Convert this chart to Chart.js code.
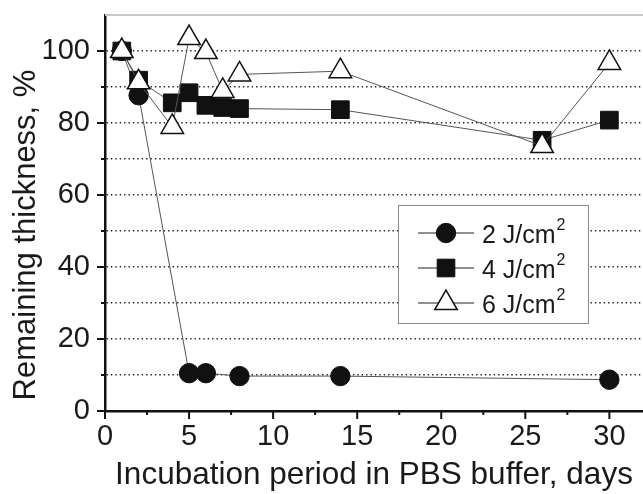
<!DOCTYPE html>
<html><head><meta charset="utf-8">
<script src="https://cdn.jsdelivr.net/npm/chart.js@4/dist/chart.umd.min.js"></script>
<style>html,body{margin:0;padding:0;background:#fff;overflow:hidden}#wrap{width:643px;height:494px}canvas{display:block}</style>
</head><body><div id="wrap"><canvas id="c" width="643" height="494"></canvas></div>
<script>
// ---- data ----
const days2 = [1, 2, 5, 6, 8, 14, 30];
const thick2 = [100, 87.7, 10.5, 10.5, 9.7, 9.7, 8.7];
const days4 = [1, 2, 4, 5, 6, 7, 8, 14, 26, 30];
const thick4 = [100, 91.9, 85.6, 88.4, 84.9, 84.3, 84.0, 83.7, 75.2, 80.8];
const days6 = [1, 2, 4, 5, 6, 7, 8, 14, 26, 30];
const thick6 = [100, 91.3, 78.9, 103.6, 99.7, 88.9, 93.5, 94.4, 73.6, 96.7];
const seriesNames = ['2 J/cm²', '4 J/cm²', '6 J/cm²'];
const xTickLabels = [0, 5, 10, 15, 20, 25, 30];
const yTickLabels = [0, 20, 40, 60, 80, 100];
const xTitle = 'Incubation period in PBS buffer, days';
const yTitle = 'Remaining thickness, %';

const FONT = "'Liberation Sans', Arial, sans-serif";
const pts = (xs, ys) => xs.map((x, i) => ({x, y: ys[i]}));
// minor ticks halfway between labelled ticks
const xAll = [];
xTickLabels.forEach((v, i) => { xAll.push(v); if (i < xTickLabels.length - 1) xAll.push((v + xTickLabels[i + 1]) / 2); });
const yAll = [];
yTickLabels.forEach((v, i) => { yAll.push(v); if (i < yTickLabels.length - 1) yAll.push((v + yTickLabels[i + 1]) / 2); });
yAll.push(110);

const tickPlugin = {
  id: 'ticksAndFrame',
  afterDraw(chart) {
    const {ctx, chartArea} = chart;
    const ax = chart.scales.x, ay = chart.scales.y;
    ctx.save();
    // top light frame line
    ctx.strokeStyle = '#c8c8c8'; ctx.lineWidth = 2;
    ctx.beginPath(); ctx.moveTo(chartArea.left, chartArea.top); ctx.lineTo(chartArea.right, chartArea.top); ctx.stroke();
    ctx.strokeStyle = '#111'; ctx.lineWidth = 2;
    ax.ticks.forEach(t => {
      const px = ax.getPixelForValue(t.value);
      const len = xTickLabels.includes(t.value) ? 8 : 4;
      ctx.beginPath(); ctx.moveTo(px, ay.bottom); ctx.lineTo(px, ay.bottom + len); ctx.stroke();
    });
    ay.ticks.forEach(t => {
      if (t.value > 105) return;
      const py = ay.getPixelForValue(t.value);
      const len = yTickLabels.includes(t.value) ? 8 : 4;
      ctx.beginPath(); ctx.moveTo(ax.left, py); ctx.lineTo(ax.left - len, py); ctx.stroke();
    });
    // y-axis title
    ctx.save();
    ctx.translate(26, 235); ctx.rotate(-Math.PI / 2);
    ctx.fillStyle = '#1a1a1a'; ctx.font = "31px " + FONT;
    ctx.textAlign = 'center'; ctx.textBaseline = 'middle';
    ctx.fillText(yTitle, 0, 0);
    ctx.restore();
    // legend
    const bx = 398, by = 205, bw = 190, bh = 118;
    ctx.fillStyle = '#fff'; ctx.fillRect(bx, by, bw, bh);
    ctx.strokeStyle = '#8a8a8a'; ctx.lineWidth = 1;
    ctx.strokeRect(bx + 0.5, by + 0.5, bw, bh);
    chart.data.datasets.forEach((ds, i) => {
      const cy = 233 + i * 35;
      ctx.strokeStyle = '#222'; ctx.lineWidth = 1;
      ctx.beginPath(); ctx.moveTo(418, cy); ctx.lineTo(474, cy); ctx.stroke();
      ctx.fillStyle = ds.pointBackgroundColor; ctx.strokeStyle = ds.pointBorderColor; ctx.lineWidth = ds.pointBorderWidth;
      Chart.helpers.drawPoint(ctx, {pointStyle: ds.pointStyle, radius: ds.pointRadius, borderWidth: ds.pointBorderWidth, rotation: 0}, 446, cy);
      ctx.fillStyle = '#1a1a1a';
      ctx.textBaseline = 'alphabetic'; ctx.textAlign = 'left';
      let base = ds.label, sup = '';
      if (base.endsWith('²')) { base = base.slice(0, -1); sup = '2'; }
      ctx.font = "25px " + FONT;
      ctx.fillText(base, 482, cy + 10);
      const w = ctx.measureText(base).width;
      if (sup) { ctx.font = "16px " + FONT; ctx.fillText(sup, 482 + w + 1, cy - 3); }
    });
    ctx.restore();
  }
};

new Chart(document.getElementById('c'), {
  type: 'line',
  data: {
    datasets: [
      {label: seriesNames[0], data: pts(days2, thick2), order: 3, pointStyle: 'circle', pointRadius: 9.7,
       pointBackgroundColor: '#111', pointBorderColor: '#111', pointBorderWidth: 1, borderColor: '#555', borderWidth: 1, tension: 0, clip: false},
      {label: seriesNames[1], data: pts(days4, thick4), order: 2, pointStyle: 'rect', pointRadius: 12.5,
       pointBackgroundColor: '#111', pointBorderColor: '#111', pointBorderWidth: 1, borderColor: '#555', borderWidth: 1, tension: 0, clip: false},
      {label: seriesNames[2], data: pts(days6, thick6), order: 1, pointStyle: 'triangle', pointRadius: 13,
       pointBackgroundColor: '#fff', pointBorderColor: '#111', pointBorderWidth: 1.5, borderColor: '#555', borderWidth: 1, tension: 0, clip: false}
    ]
  },
  options: {
    responsive: false, animation: false, devicePixelRatio: 1,
    layout: {autoPadding: false, padding: {top: 15, right: 0, left: 0, bottom: 0}},
    plugins: {legend: {display: false}, tooltip: {enabled: false}},
    scales: {
      x: {
        type: 'linear', min: 0, max: 32,
        afterBuildTicks: (axis) => { axis.ticks = xAll.map(v => ({value: v})); },
        afterFit: (s) => { s.height = 83; s.paddingRight = 0; s.paddingLeft = 0; },
        ticks: {autoSkip: false, maxRotation: 0, padding: 9, color: '#1a1a1a',
          font: {family: FONT, size: 29}, callback: (v) => xTickLabels.includes(v) ? String(v) : ''},
        grid: {drawOnChartArea: false, drawTicks: false},
        border: {color: '#111', width: 2.5},
        title: {display: true, text: xTitle, color: '#1a1a1a', font: {family: FONT, size: 31.5}, padding: {top: 0, bottom: 0}}
      },
      y: {
        type: 'linear', min: 0, max: 110,
        afterBuildTicks: (axis) => { axis.ticks = yAll.map(v => ({value: v})); },
        afterFit: (s) => { s.width = 105; s.paddingTop = 0; s.paddingBottom = 0; },
        ticks: {autoSkip: false, padding: 15, color: '#1a1a1a',
          font: {family: FONT, size: 29}, callback: (v) => yTickLabels.includes(v) ? String(v) : ''},
        grid: {drawTicks: false, lineWidth: 1.4,
          color: (c) => (c.tick && c.tick.value > 0 && c.tick.value < 105) ? '#222' : 'rgba(0,0,0,0)'},
        border: {color: '#111', width: 2.5, dash: [1.4, 3]},
        title: {display: false}
      }
    }
  },
  plugins: [tickPlugin]
});
</script>
</body></html>
